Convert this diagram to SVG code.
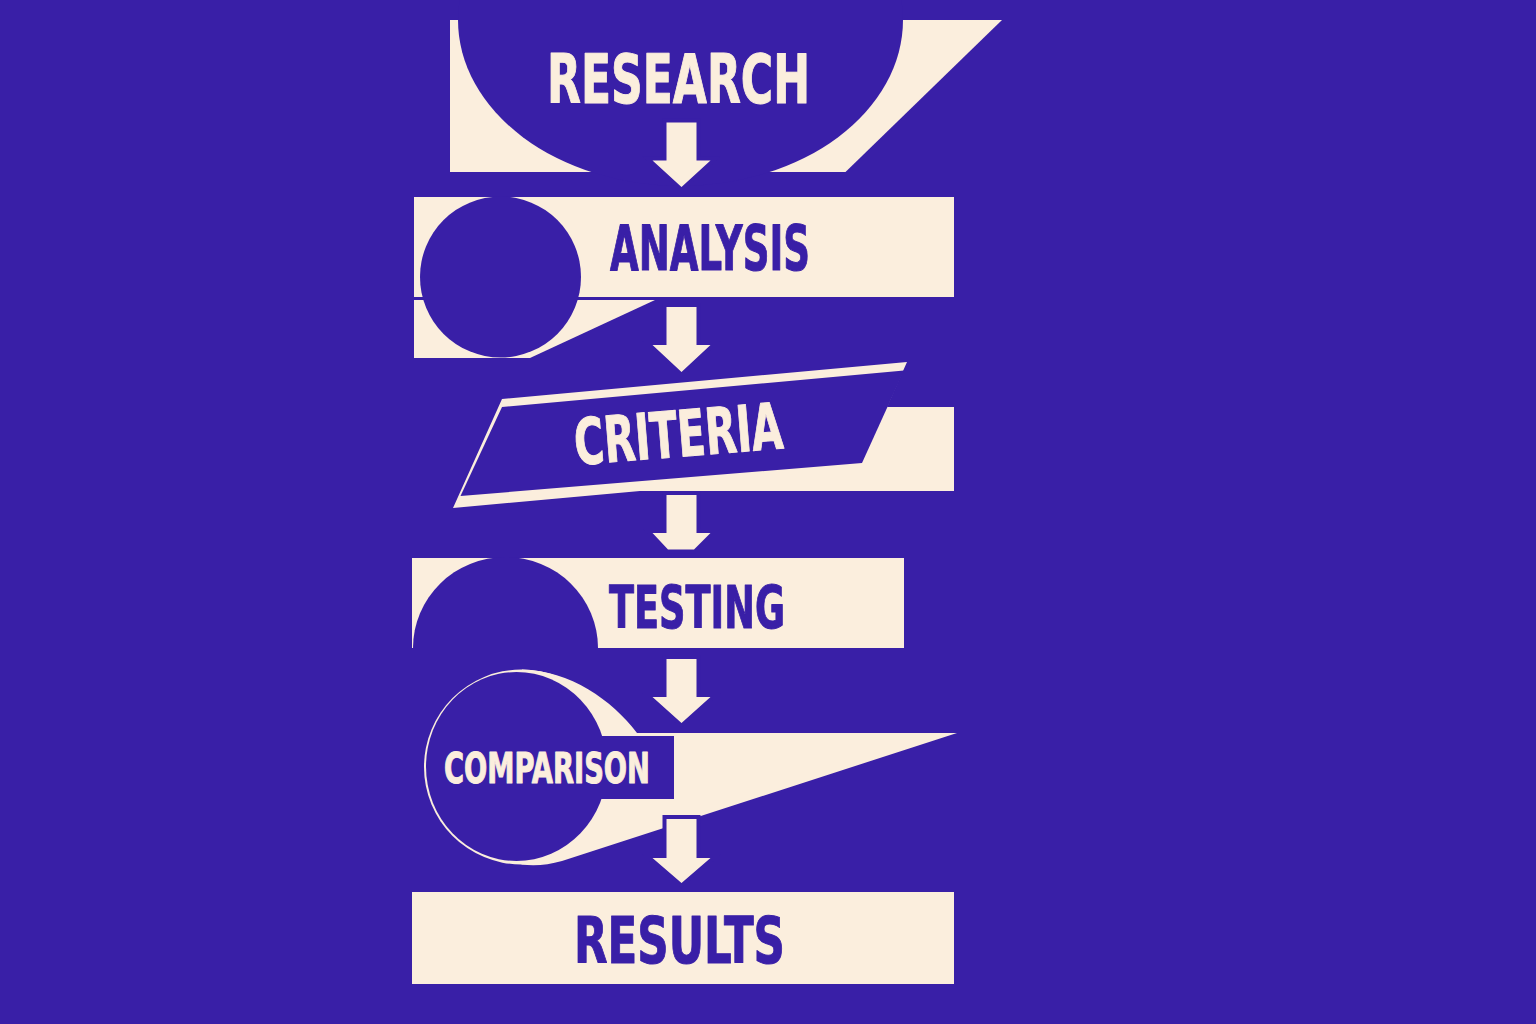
<svg xmlns="http://www.w3.org/2000/svg" width="1536" height="1024" viewBox="0 0 1536 1024">
  <style>
    .bg { fill: #391FA7; }
    .cream { fill: #FBEEDD; }
    .dark { fill: #391FA7; }
    .lbl { font-family: "Liberation Sans Narrow", "DejaVu Sans Condensed", "Roboto", sans-serif; font-weight: bold; font-stretch: condensed; stroke-width: 1; stroke-linejoin: round; }
    .lbl-cream { fill: #FBEEDD; stroke: #FBEEDD; }
    .lbl-dark { fill: #391FA7; stroke: #391FA7; }
    .arrow { fill: #FBEEDD; stroke: #391FA7; stroke-width: 8; paint-order: stroke; stroke-linejoin: miter; }
  </style>
  <rect class="bg" x="0" y="0" width="1536" height="1024"/>

  <g id="node-research">
    <polygon class="cream" points="450,20 1002,20 845.5,172 450,172"/>
    <ellipse class="dark" cx="680.5" cy="20" rx="222.5" ry="166"/>
    <text class="lbl lbl-cream" x="547" y="103" font-size="67" textLength="263" lengthAdjust="spacingAndGlyphs">RESEARCH</text>
  </g>

  <g id="node-analysis">
    <rect class="cream" x="414" y="197" width="540" height="100"/>
    <polygon class="cream" points="414,300 655,300 530,358 414,358"/>
    <circle class="dark" cx="500.5" cy="277" r="80.5"/>
    <text class="lbl lbl-dark" x="610" y="270" font-size="61.5" textLength="200" lengthAdjust="spacingAndGlyphs">ANALYSIS</text>
  </g>

  <g id="node-criteria">
    <polygon class="cream" points="502,399 907,362 887,407 954,407 954,491 640,491 453,508"/>
    <polygon class="dark" points="502,407 904,370.5 862,463 460.5,496"/>
    <text class="lbl lbl-cream" x="576" y="465" font-size="64" textLength="209" lengthAdjust="spacingAndGlyphs" transform="rotate(-4.6 576 465)">CRITERIA</text>
  </g>

  <g id="node-testing">
    <rect class="cream" x="412" y="558" width="492" height="90"/>
    <path class="dark" d="M 413 648 A 92.5 91 0 0 1 598 648 Z"/>
    <text class="lbl lbl-dark" x="609" y="628" font-size="58.5" textLength="176" lengthAdjust="spacingAndGlyphs">TESTING</text>
  </g>

  <g id="node-comparison">
    <circle class="cream" cx="521.5" cy="767" r="97.5"/>
    <path class="cream" d="M 522 669.5 C 570 670.5, 612 700, 637 733 L 957 733 L 562 861 C 548 865, 535 866, 521.5 864.5 L 521.5 766 Z"/>
    <ellipse class="dark" cx="516.5" cy="766.5" rx="90.5" ry="94.5"/>
    <rect class="dark" x="470" y="736" width="204" height="63"/>
    <text class="lbl lbl-cream" x="444" y="783" font-size="42" textLength="206" lengthAdjust="spacingAndGlyphs">COMPARISON</text>
  </g>

  <g id="node-results">
    <rect class="cream" x="412" y="892" width="542" height="92"/>
    <text class="lbl lbl-dark" x="574" y="963" font-size="64" textLength="211" lengthAdjust="spacingAndGlyphs">RESULTS</text>
  </g>

  <g id="connectors">
    <path class="arrow" d="M 666.5 122.5 H 696.5 V 160.5 H 710.5 L 681.5 187 L 652.5 160.5 H 666.5 Z"/>
    <path class="arrow" d="M 666.5 307 H 696.5 V 345 H 710.5 L 681.5 372 L 652.5 345 H 666.5 Z"/>
    <path class="arrow" d="M 666.5 495 H 696.5 V 533 H 710.5 L 694 549.5 H 668 L 652.5 533 H 666.5 Z"/>
    <path class="arrow" d="M 666.5 659 H 696.5 V 697 H 710.5 L 681.5 723 L 652.5 697 H 666.5 Z"/>
    <path class="arrow" d="M 666.5 819 H 696.5 V 858 H 710.5 L 681.5 883 L 652.5 858 H 666.5 Z"/>
  </g>
</svg>
